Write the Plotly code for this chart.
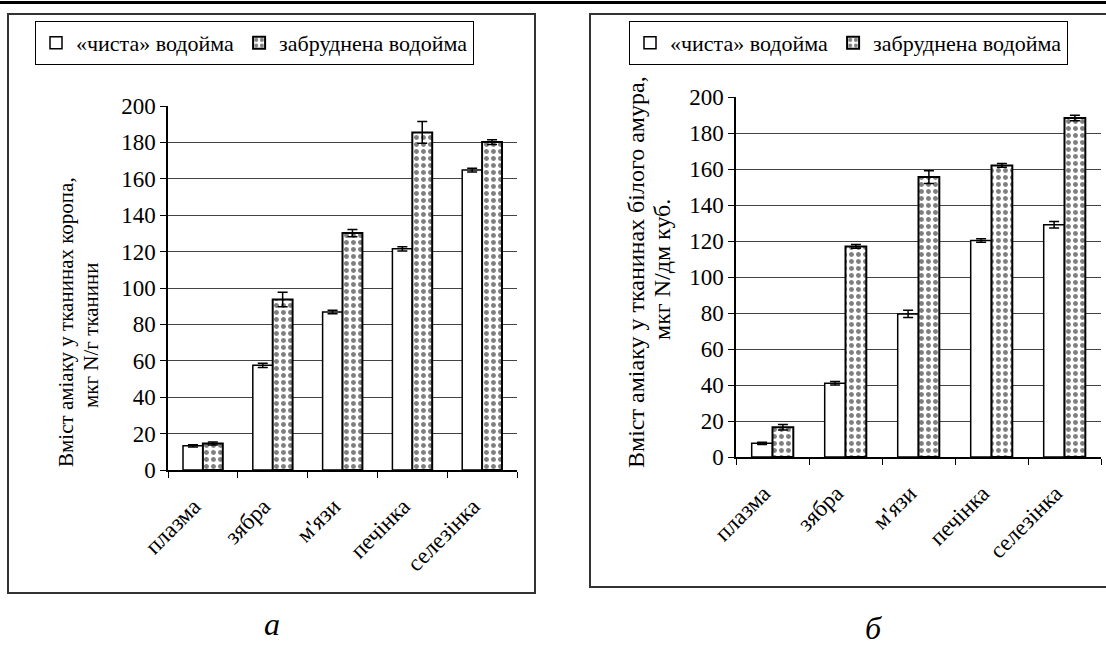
import plotly.graph_objects as go

categories = ["плазма", "зябра", "м'язи", "печінка", "селезінка"]

# panel а (короп)
a_clean = [13.3, 57.5, 86.8, 121.5, 164.8]
a_clean_err = [0.6, 1.2, 1.0, 1.2, 1.0]
a_poll = [14.6, 93.7, 130.2, 185.5, 180.2]
a_poll_err = [0.8, 4.0, 2.0, 6.0, 1.3]

# panel б (білий амур)
b_clean = [7.6, 41.0, 79.5, 120.3, 129.0]
b_clean_err = [0.6, 1.0, 2.0, 1.0, 1.8]
b_poll = [16.5, 117.0, 155.5, 162.0, 188.3]
b_poll_err = [1.5, 1.0, 3.5, 1.0, 1.5]

name_clean = "«чиста» водойма"
name_poll = "забруднена водойма"

a_title = ["Вміст аміаку у тканинах коропа,", "мкг N/г тканини"]
b_title = ["Вміст аміаку у тканинах білого амура,", "мкг N/дм куб."]

W, H = 1106, 647
FONT = "Liberation Serif"

def px(x):
    return x / W

def py(y):
    return 1 - y / H

fig = go.Figure()

def add_pair(clean, clean_err, poll, poll_err, xa, ya, legend, show):
    fig.add_trace(go.Bar(
        x=categories, y=clean, name=name_clean, xaxis=xa, yaxis=ya,
        legend=legend, showlegend=show,
        marker=dict(color="white", line=dict(color="black", width=1.5)),
        error_y=dict(type="data", array=clean_err, color="black", thickness=1.5, width=5),
    ))
    fig.add_trace(go.Bar(
        x=categories, y=poll, name=name_poll, xaxis=xa, yaxis=ya,
        legend=legend, showlegend=show,
        marker=dict(color="white", line=dict(color="black", width=2),
                    pattern=dict(shape=".", fgcolor="black", bgcolor="white",
                                 size=7, solidity=0.4)),
        error_y=dict(type="data", array=poll_err, color="black", thickness=1.5, width=5),
    ))

add_pair(a_clean, a_clean_err, a_poll, a_poll_err, "x", "y", "legend", True)
add_pair(b_clean, b_clean_err, b_poll, b_poll_err, "x2", "y2", "legend2", True)

yaxis_common = dict(
    range=[0, 200], dtick=20, showline=True, linecolor="black", linewidth=1.5,
    ticks="outside", ticklen=6, tickcolor="black", gridcolor="#444", gridwidth=1,
    tickfont=dict(family=FONT, size=23, color="black"), zeroline=False,
)
xaxis_common = dict(
    type="category", showline=True, linecolor="black", linewidth=1.5,
    ticks="outside", ticklen=6, tickcolor="black", tickson="boundaries",
    tickangle=-45, showgrid=False, ticklabelstandoff=12, ticklabelshift=-9,
    tickfont=dict(family=FONT, size=23, color="black"),
)

def title_ann(text, x, y, size):
    return dict(text=text, xref="paper", yref="paper", x=px(x), y=py(y), textangle=-90,
                showarrow=False, xanchor="center", yanchor="middle",
                font=dict(family=FONT, size=size, color="black"))

fig.update_layout(
    width=W, height=H, margin=dict(l=0, r=0, t=0, b=0, autoexpand=False),
    paper_bgcolor="white", plot_bgcolor="white",
    barmode="group", bargap=0.43, bargroupgap=0,
    font=dict(family=FONT, color="black"),
    xaxis=dict(domain=[px(168), px(517)], anchor="y", **xaxis_common),
    yaxis=dict(domain=[py(470), py(106)], anchor="x", **yaxis_common),
    xaxis2=dict(domain=[px(736), px(1101)], anchor="y2", **xaxis_common),
    yaxis2=dict(domain=[py(457), py(97)], anchor="x2", **yaxis_common),
    legend=dict(orientation="h", x=px(35), y=py(21), xanchor="left", yanchor="top",
                bordercolor="black", borderwidth=1, bgcolor="white",
                font=dict(family=FONT, size=22, color="black"), itemwidth=30),
    legend2=dict(orientation="h", x=px(629), y=py(21), xanchor="left", yanchor="top",
                 bordercolor="black", borderwidth=1, bgcolor="white",
                 font=dict(family=FONT, size=22, color="black"), itemwidth=30),
    shapes=[
        dict(type="line", xref="paper", yref="paper", x0=0, x1=1, y0=py(2.5), y1=py(2.5),
             line=dict(color="black", width=3)),
        dict(type="rect", xref="paper", yref="paper", x0=px(8), x1=px(535), y0=py(593), y1=py(14),
             line=dict(color="#333", width=2)),
        dict(type="rect", xref="paper", yref="paper", x0=px(590), x1=px(1112), y0=py(587), y1=py(14),
             line=dict(color="#333", width=2)),
    ],
    annotations=[
        title_ann(a_title[0], 66, 322, 21),
        title_ann(a_title[1], 91, 335, 21),
        title_ann(b_title[0], 636, 272, 24),
        title_ann(b_title[1], 662, 270, 24),
        dict(text="<i>а</i>", xref="paper", yref="paper", x=px(272), y=py(624), showarrow=False,
             xanchor="center", yanchor="middle", font=dict(family=FONT, size=32, color="black")),
        dict(text="<i>б</i>", xref="paper", yref="paper", x=px(873), y=py(628), showarrow=False,
             xanchor="center", yanchor="middle", font=dict(family=FONT, size=32, color="black")),
    ],
)

fig.write_html("out.html", config={"displayModeBar": False},
               post_script="document.body.style.margin='0';document.body.style.overflow='hidden';")
